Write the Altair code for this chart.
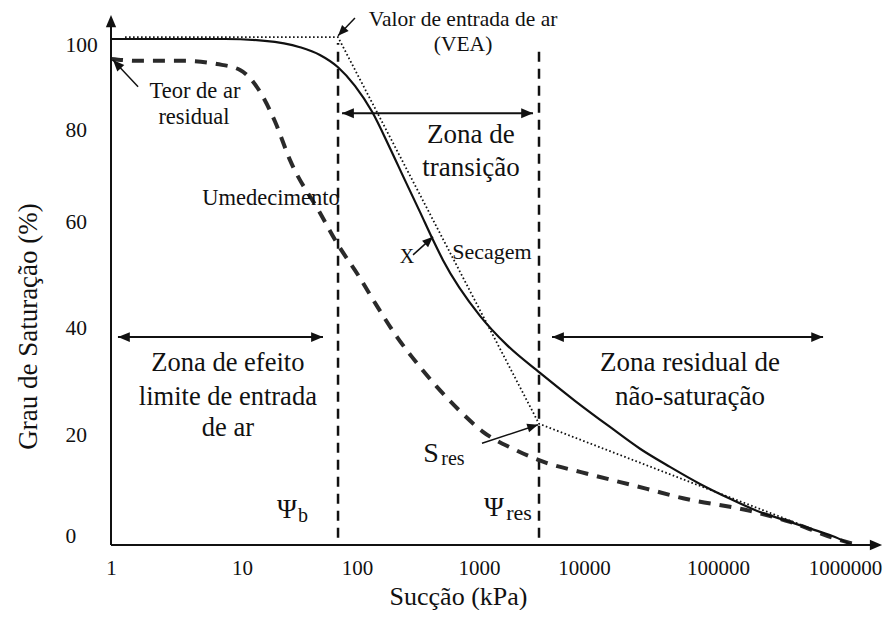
import altair as alt
import pandas as pd

FONT = "Liberation Serif"
INK = "#111111"

# ---- scale anchors (tick labels of the original, hand-spaced figure) ----
x_ticks = [1, 10, 100, 1000, 10000, 100000, 1000000]
x_tick_px = [0, 131, 246, 368, 473, 607, 737]
y_ticks = [0, 20, 40, 60, 80, 100]
y_tick_px = [537, 427, 320, 214, 122, 31]

# ---- curves (suction in kPa, degree of saturation in %) ----
drying_suction = [1, 7.4, 15.8, 31.9, 47.6, 68.4, 96, 133, 186, 247, 328, 420, 507,
                  1022, 1848, 3811, 8200, 15630, 26200, 43800, 73400, 124000,
                  210000, 358000, 557000, 794000, 1074000]
drying_sat = [100, 100, 99.6, 98.2, 96.5, 93.8, 89.7, 84.0, 76.1, 69.1, 62.2, 56.6, 52.8,
              42.3, 36.8, 31.6, 26.4, 21.5, 17.5, 14.2, 11.1, 8.4,
              6.0, 4.2, 2.7, 1.45, 0]

wetting_suction = [1, 1.66, 3.55, 6.44, 9.66, 14.9, 19.4, 26.1, 47.6, 68.4, 102, 149,
                   213, 282, 452, 726, 1091, 2109, 4446, 9160, 29500, 54800, 176000,
                   358000, 767000, 1172000]
wetting_sat = [95.6, 95.2, 95.2, 94.5, 93.2, 87.7, 81.8, 73.5, 62.0, 55.7, 50.0, 43.8,
               38.3, 34.6, 29.0, 24.1, 20.6, 17.5, 14.9, 13.3, 10.2, 8.5, 6.2,
               4.2, 1.3, 0]

fit_suction = [1.28, 68.4, 3728, 528000]
fit_sat = [100.4, 100.4, 22.1, 2.9]

# vertical markers: psi_b (air-entry value) and psi_res
marker_suction = [68.4, 3728]
marker_top = [99.1, 98.0]
marker_bottom = [1.3, 1.3]

# ---- annotation texts ----
ann_text = ["Valor de entrada de ar", "(VEA)", "Teor de ar", "residual", "Umedecimento",
            "Zona de", "transição", "Secagem", "X",
            "Zona de efeito", "limite de entrada", "de ar",
            "Zona residual de", "não-saturação",
            "S", "res", "Ψ", "b", "Ψ", "res"]
ann_x = [740, 740, 4.38, 4.3, 17.9,
         859, 859, 1330, 257,
         7.8, 7.8, 7.8,
         61800, 61800,
         404, 612, 24.6, 33.9, 1390, 2404]
ann_y = [104.2, 98.7, 88.6, 82.9, 65.2,
         78.9, 71.7, 54.3, 53.4,
         33.5, 27.1, 21.3,
         33.5, 27.1,
         16.5, 15.6, 6.4, 5.3, 6.7, 5.8]
ann_size = [21.5, 21.5, 22.5, 22.5, 22.5,
            27, 27, 22, 20,
            26.5, 26.5, 26.5,
            27, 27,
            28, 20, 27, 20, 27, 22]

# ---- arrows: shafts (x1, y1) -> (x2, y2) ----
shaft_x1 = [1, 1, 96, 1.61, 288, 1068, 74.1, 1.13, 4960]
shaft_y1 = [0, 0, 104.6, 89.5, 53.8, 18.5, 83.7, 38.3, 38.3]
shaft_x2 = [1, 1500000, 68.4, 1.036, 420, 3648, 3270, 50.6, 643000]
shaft_y2 = [103, 0, 100.7, 95.4, 57.2, 21.9, 83.7, 38.3, 38.3]
shaft_w = [2, 2, 1.5, 1.5, 1.5, 1.5, 2, 2, 2]

# arrow heads: tip position and pointing direction (degrees, clockwise from up)
head_x = [1, 1830000, 68.4, 1.036, 420, 3648, 74.1, 3270, 1.13, 50.6, 4960, 643000]
head_y = [105.3, 0, 100.7, 95.4, 57.2, 21.9, 83.7, 83.7, 38.3, 38.3, 38.3, 38.3]
head_angle = [0, 90, 223, 317, 48, 73, 270, 90, 270, 90, 270, 90]
head_size = [600, 600, 460, 520, 460, 460, 560, 560, 560, 560, 560, 560]

# ---- tables ----
drying = pd.DataFrame({"x": drying_suction, "y": drying_sat})
wetting = pd.DataFrame({"x": wetting_suction, "y": wetting_sat})
fit = pd.DataFrame({"x": fit_suction, "y": fit_sat})
markers = pd.DataFrame({"x": marker_suction, "y": marker_bottom, "y2": marker_top})
ann = pd.DataFrame({"t": ann_text, "x": ann_x, "y": ann_y, "s": ann_size})
shafts = pd.DataFrame({"x": shaft_x1, "y": shaft_y1, "x2": shaft_x2, "y2": shaft_y2, "w": shaft_w})
heads = pd.DataFrame({"x": head_x, "y": head_y, "a": head_angle, "s": head_size})

x_scale = alt.Scale(type="log", domain=x_ticks, range=x_tick_px, nice=False)
y_scale = alt.Scale(type="linear", domain=y_ticks, range=y_tick_px, nice=False, zero=False)

x_axis = alt.Axis(values=x_ticks, format="d", domain=False, ticks=False, grid=False,
                  labelFont=FONT, labelFontSize=21, labelColor=INK, labelPadding=12,
                  labelFlush=False, labelOverlap=False,
                  labelOffset={"condition": {"test": "datum.value === 1000000", "value": -3},
                               "value": 0},
                  titleFont=FONT, titleFontSize=26, titleFontWeight="normal", titleColor=INK,
                  titleX=347, titleY=51, titleBaseline="middle", titleAlign="center")
y_axis = alt.Axis(values=y_ticks, domain=False, ticks=False, grid=False,
                  labelFont=FONT, labelFontSize=21.5, labelColor=INK,
                  labelAlign="left", labelPadding=46, labelFlush=False, labelOverlap=False,
                  labelOffset={"condition": [{"test": "datum.value === 0", "value": -9},
                                             {"test": "datum.value === 100", "value": 6}],
                               "value": 0},
                  titleFont=FONT, titleFontSize=27, titleFontWeight="normal", titleColor=INK,
                  titleX=-83, titleY=318, titleAngle=-90, titleBaseline="middle", titleAlign="center")


def X(f="x"):
    return alt.X(f"{f}:Q", scale=x_scale, axis=x_axis, title="Sucção (kPa)")


def Y(f="y"):
    return alt.Y(f"{f}:Q", scale=y_scale, axis=y_axis, title="Grau de Saturação (%)")


ARROW = "M0,0L-0.42,1L0.42,1Z"

layers = [
    alt.Chart(markers).mark_rule(color=INK, strokeWidth=2.5, strokeDash=[10, 7]).encode(
        x=X(), y=Y(), y2="y2:Q"),
    alt.Chart(fit).mark_line(color=INK, strokeWidth=1.8, strokeDash=[1.6, 2.4]).encode(
        x=X(), y=Y()),
    alt.Chart(wetting).mark_line(color="#2a2a2a", strokeWidth=4, strokeDash=[12, 9],
                                 interpolate="monotone").encode(x=X(), y=Y()),
    alt.Chart(drying).mark_line(color=INK, strokeWidth=2.2, interpolate="monotone").encode(
        x=X(), y=Y()),
    alt.Chart(shafts).mark_rule(color=INK).encode(
        x=X(), y=Y(), x2="x2:Q", y2="y2:Q", strokeWidth=alt.StrokeWidth("w:Q", scale=None)),
    alt.Chart(heads).mark_point(shape=ARROW, filled=True, color=INK, opacity=1, strokeWidth=0).encode(
        x=X(), y=Y(), angle=alt.Angle("a:Q", scale=None), size=alt.Size("s:Q", scale=None)),
    alt.Chart(ann).mark_text(font=FONT, align="center", baseline="middle", color=INK).encode(
        x=X(), y=Y(), text="t:N", size=alt.Size("s:Q", scale=None)),
]

chart = alt.layer(*layers).properties(
    width=772, height=537,
    autosize=alt.AutoSizeParams(type="none"),
    padding={"left": 103, "top": 0, "right": 0, "bottom": 65},
).configure_view(stroke=None)

chart.save("out.html", embed_options={"renderer": "svg", "actions": False})
